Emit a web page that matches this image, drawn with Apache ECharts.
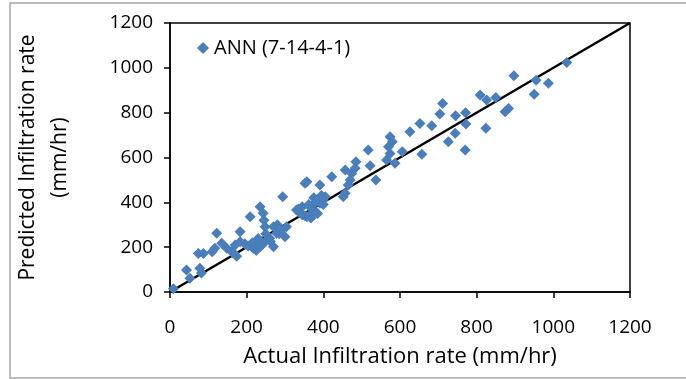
<!DOCTYPE html>
<html>
<head>
<meta charset="utf-8">
<script src="https://cdn.jsdelivr.net/npm/echarts@6/dist/echarts.min.js"></script>
<style>
  html, body { margin: 0; padding: 0; background: #fff; }
  #chart { width: 686px; height: 379px; }
</style>
</head>
<body>
<div id="chart"></div>
<script>
// actual vs predicted infiltration rate (mm/hr)
var actual = [
  9, 43, 52, 78, 82, 74, 87, 117, 110, 122, 135, 148, 161, 174, 170, 165, 183, 183, 195, 204,
  217, 209, 222, 235, 243, 248, 230, 235, 252, 245, 260, 270, 278, 270, 285, 304, 300, 294, 330, 339,
  345, 352, 357, 365, 370, 357, 352, 375, 380, 391, 391, 400, 383, 395, 405, 422, 452, 457, 457, 465,
  470, 474, 483, 485, 517, 522, 537, 565, 570, 574, 574, 580, 587, 606, 626, 652, 657, 683, 704, 711,
  726, 744, 745, 771, 772, 770, 809, 824, 826, 850, 874, 883, 897, 950, 955, 987, 1035,
  215, 225, 240, 250, 262, 280, 290, 335, 345, 362, 368, 378, 385, 400
];
var predicted = [
  15, 98, 61, 106, 85, 172, 172, 195, 180, 262, 217, 195, 180, 160, 210, 175, 269, 224, 215, 205,
  195, 336, 215, 380, 351, 291, 239, 202, 232, 320, 240, 291, 262, 202, 260, 291, 247, 425, 366, 352,
  380, 340, 336, 380, 350, 492, 485, 420, 400, 396, 477, 410, 410, 430, 425, 514, 425, 440, 544, 477,
  500, 529, 552, 581, 633, 563, 500, 589, 648, 618, 693, 670, 574, 626, 715, 752, 614, 742, 794, 841,
  670, 708, 786, 800, 749, 633, 879, 730, 856, 868, 804, 819, 965, 882, 945, 931, 1024,
  220, 185, 210, 260, 225, 300, 275, 370, 345, 390, 330, 360, 350, 390
];
var lineX = [0, 1200];
var lineY = [0, 1200];

var points = actual.map(function (a, i) { return [a, predicted[i]]; });
var diag = lineX.map(function (a, i) { return [a, lineY[i]]; });

var font = '"Open Sans", "Liberation Sans", sans-serif';
var plain = function (v) { return String(v); };
var chart = echarts.init(document.getElementById('chart'), null, { renderer: 'canvas' });

chart.setOption({
  animation: false,
  backgroundColor: '#fff',
  graphic: [{
    type: 'rect',
    shape: { x: 10, y: 3, width: 690, height: 375 },
    style: { fill: 'none', stroke: '#a6a6a6', lineWidth: 1.5 },
    silent: true
  }],
  grid: { left: 170, top: 23, right: 56, bottom: 87, show: true, borderColor: '#000', borderWidth: 1.5 },
  legend: {
    left: 192, top: 33, itemGap: 4,
    itemWidth: 12, itemHeight: 12,
    data: [{ name: 'ANN (7-14-4-1)', icon: 'diamond' }],
    textStyle: { fontFamily: font, fontSize: 20, color: '#000' }
  },
  xAxis: {
    type: 'value', min: 0, max: 1200, interval: 200,
    name: 'Actual Infiltration rate (mm/hr)',
    nameLocation: 'middle', nameGap: 54,
    nameTextStyle: { fontFamily: font, fontSize: 22, color: '#000' },
    axisLine: { lineStyle: { color: '#000', width: 1.5 } },
    axisTick: { inside: false, length: 6, lineStyle: { color: '#000', width: 1.5 } },
    axisLabel: { fontFamily: font, fontSize: 19, color: '#000', margin: 26, formatter: plain },
    splitLine: { show: false }
  },
  yAxis: {
    type: 'value', min: 0, max: 1200, interval: 200,
    name: 'Predicted Infiltration rate\n(mm/hr)',
    nameLocation: 'middle', nameGap: 94,
    nameTextStyle: { fontFamily: font, fontSize: 21, color: '#000', lineHeight: 32 },
    axisLine: { lineStyle: { color: '#000', width: 1.5 } },
    axisTick: { inside: false, length: 6, lineStyle: { color: '#000', width: 1.5 } },
    axisLabel: { fontFamily: font, fontSize: 19, color: '#000', margin: 17, formatter: plain },
    splitLine: { show: false }
  },
  series: [{
    name: 'ANN (7-14-4-1)',
    type: 'scatter',
    data: points,
    symbol: 'diamond',
    symbolSize: 11,
    itemStyle: { color: '#4a7ebb', opacity: 1 },
    z: 3
  }, {
    name: 'line',
    type: 'line',
    data: diag,
    showSymbol: false,
    lineStyle: { color: '#000', width: 2.5 },
    z: 2
  }]
});
</script>
</body>
</html>
